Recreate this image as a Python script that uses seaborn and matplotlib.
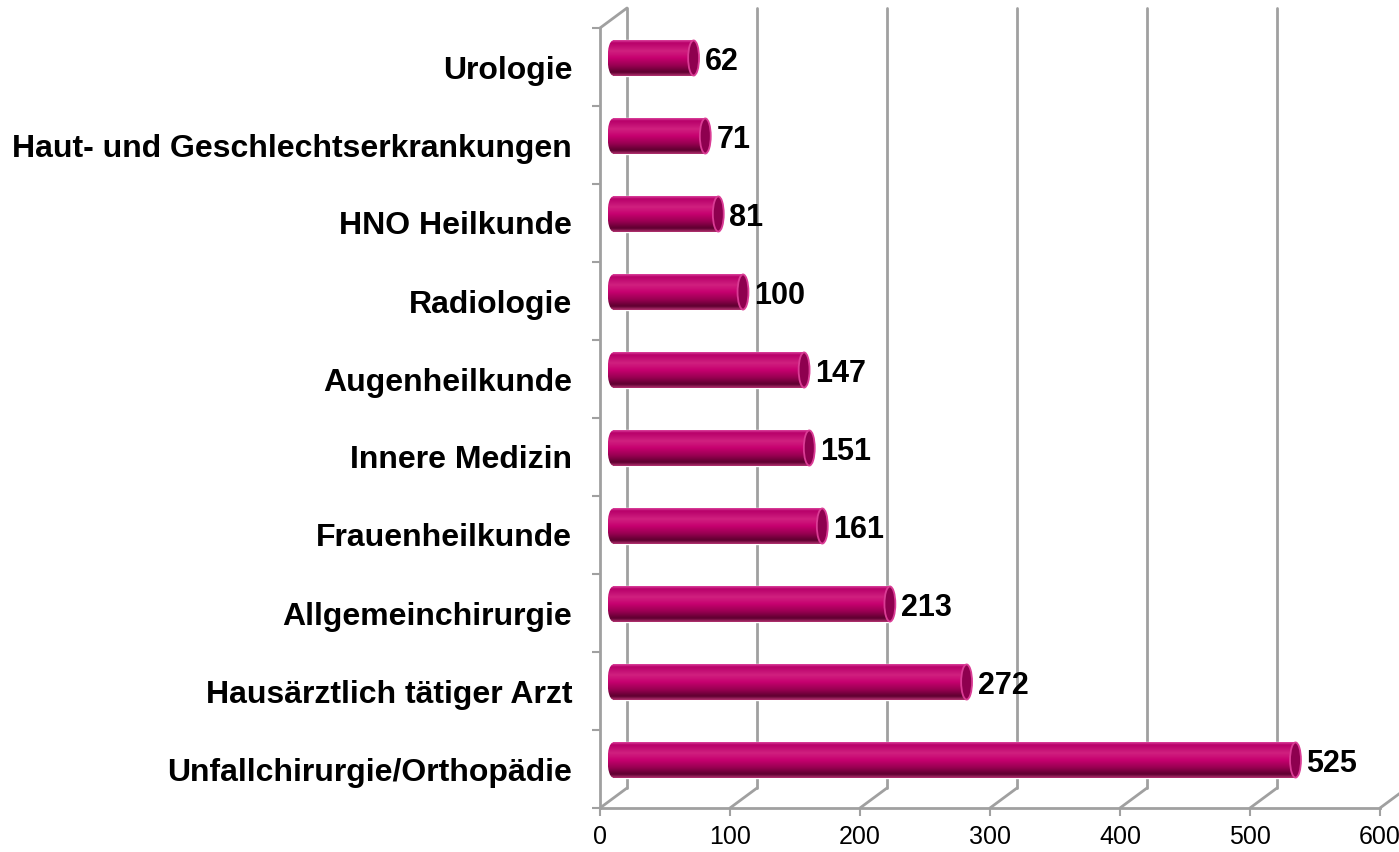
import numpy as np
import matplotlib
matplotlib.use("Agg")
import matplotlib.pyplot as plt
import matplotlib.transforms as mtransforms
from matplotlib.patches import Ellipse, ConnectionPatch
from matplotlib.colors import LinearSegmentedColormap
import seaborn as sns

# data
categories = ["Urologie", "Haut- und Geschlechtserkrankungen", "HNO Heilkunde",
              "Radiologie", "Augenheilkunde", "Innere Medizin", "Frauenheilkunde",
              "Allgemeinchirurgie", "Hausärztlich tätiger Arzt",
              "Unfallchirurgie/Orthopädie"]
values = [62, 71, 81, 100, 147, 151, 161, 213, 272, 525]
x_ticks = [0, 100, 200, 300, 400, 500, 600]

sns.set_theme(style="white")
plt.rcParams["font.family"] = ["Liberation Sans", "DejaVu Sans"]

W, H = 1399, 852
fig = plt.figure(figsize=(W / 100, H / 100), dpi=100)
ax = fig.add_axes([600 / W, (H - 808) / H, 780 / W, (808 - 28) / H])

sns.barplot(x=values, y=categories, orient="h", color="#C4006E",
            width=0.45, ax=ax, zorder=3)


def shift(dx, dy):
    # offset in pixels (dpi 100) -> fake 3D depth
    return ax.transData + mtransforms.ScaledTranslation(dx / 100, dy / 100, fig.dpi_scale_trans)


bar_tr = shift(13, 9)
back_tr = shift(27, 20)
grid_col = "#A0A0A0"

# cylinder shading
cyl = LinearSegmentedColormap.from_list("cyl", [
    (0.00, "#D9409A"), (0.07, "#B8006A"), (0.30, "#D0207F"), (0.50, "#C6006F"),
    (0.72, "#960050"), (0.90, "#5E0030"), (1.00, "#B0306E")])
grad = np.linspace(0, 1, 64).reshape(-1, 1)
half_w = 4.2  # half width of end ellipse in data units (~5 px)

for p in list(ax.patches):
    p.set_transform(bar_tr)
    x0, w = p.get_x(), p.get_width()
    y0, h = p.get_y(), p.get_height()
    yc = y0 + h / 2
    im = ax.imshow(grad, extent=[x0, x0 + w, y0 + h, y0], cmap=cyl, aspect="auto",
                   transform=bar_tr, zorder=3.5, interpolation="bilinear")
    im.set_clip_path(p)
    back = Ellipse((x0, yc), 2 * half_w, h, transform=bar_tr,
                   facecolor="none", edgecolor="none", zorder=3.4)
    ax.add_patch(back)
    im2 = ax.imshow(grad, extent=[x0 - half_w, x0 + half_w, y0 + h, y0], cmap=cyl,
                    aspect="auto", transform=bar_tr, zorder=3.4, interpolation="bilinear")
    im2.set_clip_path(back)
    cap = Ellipse((x0 + w, yc), 2 * half_w, h, transform=bar_tr,
                  facecolor="#8E004F", edgecolor="#DA3C95", lw=1.3, zorder=4)
    ax.add_patch(cap)

# value labels
lab_tr = shift(24, 5)
for i, v in enumerate(values):
    ax.text(v, i, str(v), transform=lab_tr, ha="left", va="center",
            fontsize=22, fontweight="bold", color="black", zorder=6)

# back wall grid lines and floor lines
for t in x_ticks:
    ax.plot([t, t], [9.5, -0.5], transform=back_tr, color=grid_col, lw=2,
            zorder=1, clip_on=False)
    ax.add_artist(ConnectionPatch(xyA=(t, 9.5), coordsA=ax.transData,
                                  xyB=(t, 9.5), coordsB=back_tr,
                                  color=grid_col, lw=2, zorder=1, clip_on=False))
ax.add_artist(ConnectionPatch(xyA=(0, -0.5), coordsA=ax.transData,
                              xyB=(0, -0.5), coordsB=back_tr,
                              color=grid_col, lw=2, zorder=1, clip_on=False))

ax.set_xlim(0, 600)
ax.set_ylim(9.5, -0.5)
ax.set_xticks(x_ticks)
ax.set_xlabel("")
ax.set_ylabel("")
ax.set_yticks(range(len(categories)))
ax.set_yticklabels(categories, fontsize=23, fontweight="bold", color="black")
ax.set_yticks(np.arange(-0.5, len(categories)), minor=True)
ax.tick_params(axis="y", which="major", length=0, pad=20)
ax.tick_params(axis="y", which="minor", length=6, width=1.5, color=grid_col, left=True)
ax.tick_params(axis="x", length=6, width=1.5, color=grid_col, bottom=True,
               labelsize=18, labelcolor="black", pad=6)
ax.patch.set_alpha(0)
for s in ["top", "right"]:
    ax.spines[s].set_visible(False)
for s in ["left", "bottom"]:
    ax.spines[s].set_color(grid_col)
    ax.spines[s].set_linewidth(2)
ax.grid(False)

fig.savefig("out.png", dpi=100, facecolor="white")
